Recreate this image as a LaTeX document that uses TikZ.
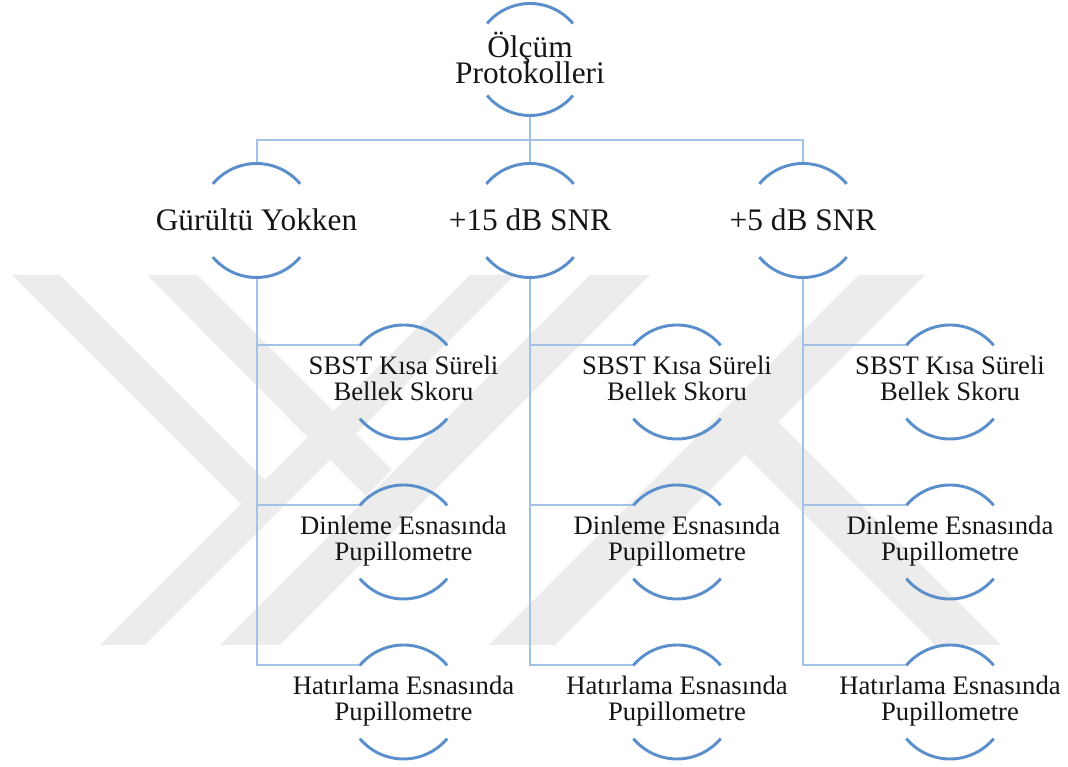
\documentclass[tikz,border=0pt]{standalone}
\usepackage{fontspec}
\setmainfont{Liberation Serif}
\definecolor{arcblue}{HTML}{5B8FCB}
\definecolor{connblue}{HTML}{A4C2E6}
\definecolor{wm}{HTML}{ECECEC}
\definecolor{txt}{HTML}{151515}
\setlength{\lineskiplimit}{-30pt}
\newcommand\ringarcs[2]{%
  \draw[arcline] (#1.40) arc[start angle=40,end angle=140,radius=#2];
  \draw[arcline] (#1.220) arc[start angle=220,end angle=320,radius=#2];}
\begin{document}
\begin{tikzpicture}[x=0.75pt,y=0.75pt,
  ring/.style={circle,minimum size=85.5pt,inner sep=0pt,outer sep=0pt,draw=none},
  rootring/.style={circle,minimum size=84pt,inner sep=0pt,outer sep=0pt,draw=none},
  arcline/.style={draw=arcblue,line width=2.2pt},
  conn/.style={draw=connblue,line width=1.5pt},
  bigtext/.style={font=\fontsize{23.5}{20}\selectfont,text=txt,align=center,inner sep=0pt},
  smalltext/.style={font=\fontsize{20}{20}\selectfont,text=txt,align=center,inner sep=0pt},
  wmark/.style={fill=wm,draw=none}]
\useasboundingbox (0,0) rectangle (1068,767);
\fill[white] (0,0) rectangle (1068,767);
% watermark
\fill[wmark] (470,492) -- (515,492) -- (145,122) -- (100,122) -- cycle;
\fill[wmark] (590,492) -- (650,492) -- (280,122) -- (220,122) -- cycle;
\fill[wmark] (12,492) -- (60,492) -- (265,287) -- (241,263) -- cycle;
\fill[wmark] (147,492) -- (197,492) -- (392,297) -- (366,271) -- cycle;
\fill[wmark] (859,492) -- (925,492) -- (555,122) -- (489,122) -- cycle;
\fill[wmark] (745,312) -- (778,345) -- (1001,122) -- (935,122) -- cycle;
% rings
\node[rootring] (r0) at (530,707.5) {};
\node[ring] (a) at (256.5,546.5) {};
\node[ring] (b) at (530,546.5) {};
\node[ring] (c) at (803,546.5) {};
\foreach \col/\x in {a/403.5,b/677,c/950}{
  \node[ring] (\col1) at (\x,385) {};
  \node[ring] (\col2) at (\x,225) {};
  \node[ring] (\col3) at (\x,65) {};
}
% connectors
\coordinate (bus) at (530,627);
\draw[conn] (r0.south) -- (bus) -| (a.north);
\draw[conn] (bus) -| (c.north);
\draw[conn] (bus) -- (b.north);
\foreach \col in {a,b,c}{
  \draw[conn] (\col.south) |- (\col1.140);
  \draw[conn] (\col.south) |- (\col2.140);
  \draw[conn] (\col.south) |- (\col3.140);
}
% arcs
\ringarcs{r0}{56}
\foreach \n in {a,b,c,a1,a2,a3,b1,b2,b3,c1,c2,c3}{\ringarcs{\n}{57}}
% texts (base anchor = baseline of the last line)
\node[bigtext,anchor=base] (t0) at (530,683) {Ölçüm\\Protokolleri};
\node[bigtext,anchor=base] (ta) at (256.5,536) {Gürültü Yokken};
\node[bigtext,anchor=base] (tb) at (530,536) {+15 dB SNR};
\node[bigtext,anchor=base] (tc) at (803,536) {+5 dB SNR};
\foreach \col/\x in {a/403.5,b/677,c/950}{
  \node[smalltext,anchor=base] (t\col1) at (\x,366.3) {SBST Kısa Süreli\\Bellek Skoru};
  \node[smalltext,anchor=base] (t\col2) at (\x,206.3) {Dinleme Esnasında\\Pupillometre};
  \node[smalltext,anchor=base] (t\col3) at (\x,46.3) {Hatırlama Esnasında\\Pupillometre};
}
\end{tikzpicture}
\end{document}
